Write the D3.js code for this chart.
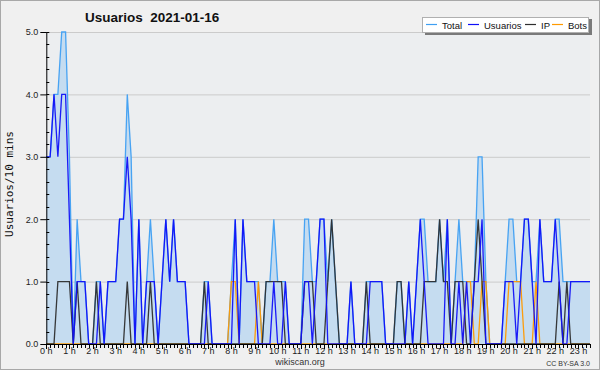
<!DOCTYPE html>
<html><head><meta charset="utf-8">
<script src="https://cdn.jsdelivr.net/npm/d3@7"></script>
<style>html,body{margin:0;padding:0;background:#f0f0f0;}svg{display:block;}</style>
</head><body>
<script>
// ---- data (10-minute intervals, 00:00 .. 23:30) ----
const hourLabels = d3.range(24).map(h => h + " h");
const yTickValues = [0, 1, 2, 3, 4, 5];
const seriesNames = ["Total", "Usuarios", "IP", "Bots"];
const total = [3,3,4,4,5,5,3,0,2,1, 1,0,0,1,1,0,1,1,1,2, 2,4,3,0,2,0,1,2,1,0,
  1,2,1,2,1,1,1,0,0,0, 0,1,1,0,0,0,0,0,1,2, 0,2,1,1,1,1,0,1,1,2, 1,1,1,0,0,0,0,2,2,1,
  1,2,2,1,2,1,0,0,0,1, 0,0,0,1,1,1,1,1,0,0, 0,1,1,0,1,0,1,2,2,1, 1,1,2,1,2,0,1,2,1,1,
  1,1,3,3,1,0,0,0,0,1, 2,2,1,1,2,2,1,1,2,1, 1,1,2,2,1,1,1,1,1,1, 1,1];
const usuarios = [3,3,4,3,4,4,2,0,1,1, 1,0,0,0,1,0,1,1,1,2, 2,3,2,0,2,0,1,1,1,0,
  1,2,1,2,1,1,1,0,0,0, 0,0,1,0,0,0,0,0,0,2, 0,2,1,1,1,0,0,0,0,1, 0,0,1,0,0,0,0,1,1,0,
  1,2,2,0,0,0,0,0,0,1, 0,0,0,0,1,1,1,1,0,0, 0,0,0,0,1,0,1,2,1,0, 0,0,0,0,2,0,0,1,0,1,
  0,1,1,2,0,0,0,0,0,1, 1,1,0,1,2,2,1,0,2,1, 1,1,2,1,0,0,1,1,1,1, 1,1];
const ip = [0,0,0,1,1,1,1,0,1,0, 0,0,0,1,0,0,0,0,0,0, 0,1,0,0,0,0,0,1,0,0,
  0,0,0,0,0,0,0,0,0,0, 0,1,0,0,0,0,0,0,0,0, 0,0,0,0,0,0,0,1,1,1, 1,1,0,0,0,0,0,1,1,1,
  0,0,0,1,2,1,0,0,0,0, 0,0,0,1,0,0,0,0,0,0, 0,1,1,0,0,0,0,0,1,1, 1,1,2,1,1,0,1,1,1,0,
  0,1,2,1,0,0,0,0,0,0, 0,0,0,0,0,0,0,0,0,0, 0,0,0,1,0,1,0,0,0,0, 0,0];
const bots = [0,0,0,0,0,0,0,0,0,0, 0,0,0,0,0,0,0,0,0,0, 0,0,0,0,0,0,0,0,0,0,
  0,0,0,0,0,0,0,0,0,0, 0,0,0,0,0,0,0,0,1,1, 0,0,0,0,0,1,0,0,0,0, 0,0,0,0,0,0,0,0,0,0,
  0,0,0,0,0,0,0,0,0,0, 0,0,0,0,0,0,0,0,0,0, 0,0,0,0,0,0,0,0,0,0, 0,0,0,0,0,0,0,0,0,1,
  1,0,0,1,1,0,0,0,0,0, 1,1,1,1,0,0,0,1,0,0, 0,0,0,0,0,0,0,0,0,0, 0,0];

const W = 600, H = 370;
const svg = d3.select("body").append("svg").attr("width", W).attr("height", H)
  .style("font-family", "'Liberation Sans', Arial, sans-serif");

svg.append("rect").attr("x", 0.5).attr("y", 0.5).attr("width", W - 1).attr("height", H - 1)
  .attr("fill", "#f0f0f0").attr("stroke", "#a8a8a8");

const n = total.length;
const x = d3.scaleLinear().domain([0, n - 1]).range([46.3, 590]);
const y = d3.scaleLinear().domain([0, 5]).range([344, 32]);

// plot background
svg.append("rect").attr("x", x(0)).attr("y", y(5)).attr("width", x(n - 1) - x(0)).attr("height", y(0) - y(5))
  .attr("fill", "#eceef0");

// grid
svg.append("g").selectAll("line").data(yTickValues.slice(1)).join("line")
  .attr("x1", x(0)).attr("x2", x(n - 1)).attr("y1", d => y(d) + 0.5).attr("y2", d => y(d) + 0.5)
  .attr("stroke", "#cbcbcb").attr("stroke-width", 1);

// total area
const idx = d3.range(n);
svg.append("path").datum(idx)
  .attr("d", d3.area().x(i => x(i)).y0(y(0)).y1(i => y(total[i])))
  .attr("fill", "#c5dcf0");

const line = arr => d3.line().x(i => x(i)).y(i => y(arr[i]));
const colors = {Total: "#3f9ff2", Usuarios: "#1010f8", IP: "#2e2e2e", Bots: "#ff9a00"};
const series = {Total: total, Usuarios: usuarios, IP: ip, Bots: bots};
const drawOrder = ["Total", "Bots", "IP", "Usuarios"];
drawOrder.forEach(name => {
  svg.append("path").datum(idx).attr("d", line(series[name])).attr("fill", "none")
    .attr("stroke", colors[name]).attr("stroke-width", 1.3).attr("stroke-linejoin", "miter")
    .attr("stroke-opacity", 0.95);
});

// y axis
const yAxis = d3.axisLeft(y).tickValues(yTickValues).tickFormat(d3.format(".1f")).tickSize(6).tickPadding(2);
const gy = svg.append("g").attr("transform", `translate(${x(0)},0)`).call(yAxis);
gy.select(".domain").remove();
gy.selectAll("text").attr("font-size", 9).attr("fill", "#222").attr("font-family", "'Liberation Sans', Arial, sans-serif");
gy.selectAll("line").attr("stroke", "#000");
// minor y ticks inside
svg.append("g").selectAll("line").data(d3.range(0, 5.01, 0.2)).join("line")
  .attr("x1", x(0)).attr("x2", x(0) + 3).attr("y1", d => Math.round(y(d)) + 0.5).attr("y2", d => Math.round(y(d)) + 0.5)
  .attr("stroke", "#000");
svg.append("line").attr("x1", x(0) + 0.5).attr("x2", x(0) + 0.5).attr("y1", y(5)).attr("y2", y(0))
  .attr("stroke", "#000");

// x axis
const gx = svg.append("g").attr("transform", `translate(0,${y(0)})`);
gx.append("line").attr("x1", x(0)).attr("x2", x(n - 1)).attr("y1", 0.5).attr("y2", 0.5).attr("stroke", "#000");
gx.selectAll("line.tk").data(idx).join("line").attr("class", "tk")
  .attr("x1", i => Math.round(x(i)) + 0.5).attr("x2", i => Math.round(x(i)) + 0.5)
  .attr("y1", 0).attr("y2", i => i % 6 === 0 ? 5 : 4).attr("stroke", "#000");
gx.selectAll("text").data(hourLabels).join("text")
  .attr("x", (d, h) => x(h * 6)).attr("y", 10).attr("text-anchor", "middle")
  .attr("font-size", 9).attr("fill", "#222").text(d => d);

// title
svg.append("text").attr("x", 85).attr("y", 22).attr("font-size", 13.5).attr("font-weight", "bold")
  .attr("fill", "#111").attr("xml:space", "preserve").style("white-space", "pre").text("Usuarios  2021-01-16");

// y title
svg.append("text").attr("transform", "translate(13,184) rotate(-90)").attr("text-anchor", "middle")
  .attr("font-family", "'DejaVu Sans Mono', monospace").attr("font-size", 11).attr("fill", "#111")
  .text("Usuarios/10 mins");

// legend
const lg = svg.append("g");
lg.append("rect").attr("x", 425).attr("y", 19).attr("width", 167).attr("height", 16).attr("fill", "#7a7a7a");
lg.append("rect").attr("x", 422.5).attr("y", 17.5).attr("width", 166).attr("height", 15).attr("fill", "#fff").attr("stroke", "#b0b0b0");
const legendPos = [{lx: 426, tx: 442}, {lx: 468, tx: 484}, {lx: 525, tx: 541}, {lx: 552, tx: 568}];
seriesNames.forEach((name, k) => {
  const p = legendPos[k];
  lg.append("line").attr("x1", p.lx).attr("x2", p.lx + 11).attr("y1", 24.5).attr("y2", 24.5)
    .attr("stroke", colors[name]).attr("stroke-width", 1.2);
  lg.append("text").attr("x", p.tx).attr("y", 28.5).attr("font-size", 9.5).attr("fill", "#111").text(name);
});

// footer
svg.append("text").attr("x", 300).attr("y", 365).attr("text-anchor", "middle").attr("font-size", 9)
  .attr("fill", "#333").text("wikiscan.org");
svg.append("text").attr("x", 590).attr("y", 366).attr("text-anchor", "end").attr("font-size", 7)
  .attr("fill", "#333").text("CC BY-SA 3.0");
</script>
</body></html>
